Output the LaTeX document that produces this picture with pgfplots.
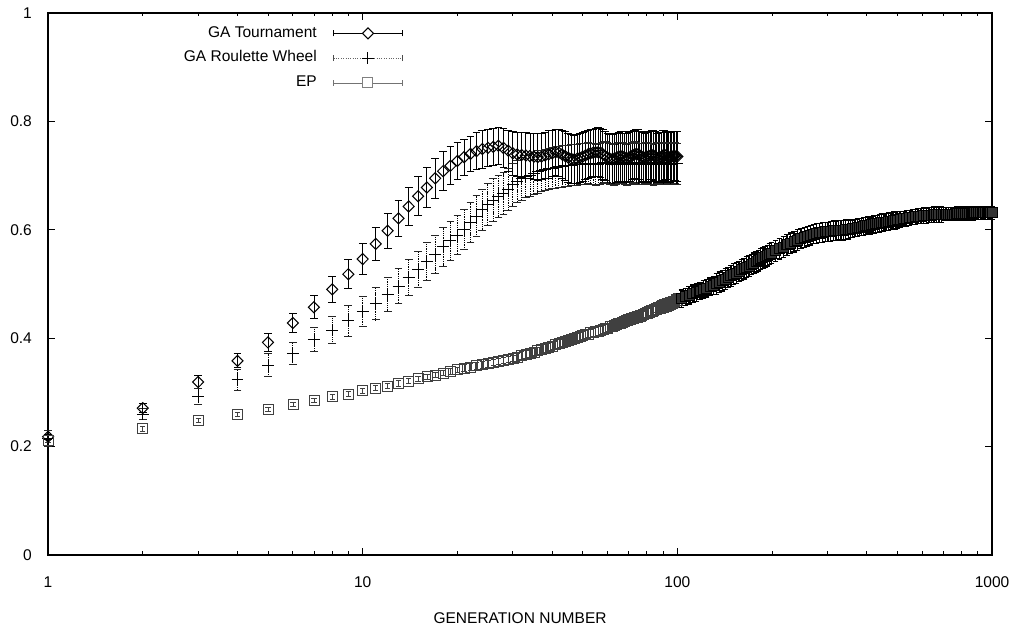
\documentclass[border=0pt]{standalone}
\usepackage{fontspec}
\setmainfont{Liberation Sans}
\usepackage{pgfplots}
\usepackage{pgfplotstable}
\pgfplotsset{compat=1.18}

\pgfplotstableread{
x y e
1 0.218 0.005
2 0.271 0.009
3 0.319 0.012
4 0.358 0.013
5 0.392 0.017
6 0.428 0.018
7 0.457 0.021
8 0.490 0.024
9 0.518 0.027
10 0.546 0.029
11 0.574 0.031
12 0.598 0.033
13 0.621 0.034
14 0.643 0.035
15 0.662 0.036
16 0.678 0.037
17 0.695 0.037
18 0.708 0.036
19 0.718 0.035
20 0.727 0.034
21 0.734 0.033
22 0.740 0.033
23 0.745 0.034
24 0.749 0.035
25 0.751 0.035
26 0.753 0.034
27 0.755 0.034
28 0.751 0.036
29 0.746 0.038
30 0.741 0.040
31 0.739 0.041
32 0.738 0.041
33 0.737 0.042
34 0.736 0.042
35 0.735 0.043
36 0.734 0.043
37 0.735 0.043
38 0.737 0.043
39 0.739 0.044
40 0.741 0.043
41 0.743 0.043
42 0.742 0.044
43 0.739 0.044
44 0.736 0.045
45 0.733 0.045
46 0.731 0.045
47 0.730 0.044
48 0.731 0.045
49 0.733 0.045
50 0.735 0.045
51 0.737 0.044
52 0.739 0.045
53 0.741 0.045
54 0.742 0.044
55 0.743 0.044
56 0.743 0.045
57 0.742 0.045
58 0.739 0.046
59 0.736 0.045
60 0.733 0.045
61 0.731 0.045
62 0.730 0.046
63 0.731 0.046
64 0.733 0.045
65 0.735 0.045
66 0.736 0.046
67 0.735 0.046
68 0.733 0.045
69 0.732 0.045
70 0.733 0.046
71 0.735 0.046
72 0.737 0.045
73 0.739 0.045
74 0.740 0.046
75 0.739 0.046
76 0.737 0.045
77 0.735 0.046
78 0.734 0.046
79 0.733 0.045
80 0.734 0.046
81 0.736 0.046
82 0.737 0.045
83 0.738 0.045
84 0.737 0.046
85 0.735 0.046
86 0.733 0.045
87 0.732 0.046
88 0.733 0.046
89 0.735 0.045
90 0.737 0.046
91 0.738 0.046
92 0.737 0.045
93 0.735 0.046
94 0.734 0.046
95 0.734 0.045
96 0.735 0.046
97 0.736 0.046
98 0.736 0.045
99 0.735 0.046
100 0.735 0.046
}\tourn

\pgfplotstableread{
x y e
1 0.215 0.015
2 0.260 0.010
3 0.292 0.015
4 0.323 0.019
5 0.350 0.021
6 0.372 0.021
7 0.398 0.022
8 0.415 0.025
9 0.432 0.028
10 0.449 0.028
11 0.464 0.030
12 0.481 0.031
13 0.496 0.032
14 0.512 0.033
15 0.527 0.034
16 0.542 0.035
17 0.555 0.035
18 0.569 0.036
19 0.580 0.036
20 0.590 0.036
21 0.601 0.037
22 0.613 0.037
23 0.625 0.038
24 0.637 0.038
25 0.647 0.038
26 0.655 0.039
27 0.661 0.039
28 0.667 0.039
29 0.675 0.039
30 0.683 0.039
31 0.689 0.039
32 0.694 0.039
33 0.698 0.039
34 0.701 0.039
35 0.704 0.039
36 0.707 0.039
37 0.709 0.038
38 0.711 0.038
39 0.713 0.038
40 0.714 0.038
41 0.715 0.038
42 0.716 0.038
43 0.717 0.038
44 0.718 0.038
45 0.718 0.038
46 0.719 0.038
47 0.720 0.038
48 0.720 0.038
49 0.721 0.038
50 0.721 0.038
51 0.722 0.038
52 0.723 0.038
53 0.722 0.038
54 0.721 0.038
55 0.720 0.038
56 0.721 0.038
57 0.722 0.038
58 0.724 0.038
59 0.725 0.038
60 0.724 0.038
61 0.722 0.038
62 0.721 0.038
63 0.720 0.038
64 0.721 0.038
65 0.723 0.038
66 0.724 0.038
67 0.723 0.038
68 0.721 0.038
69 0.720 0.038
70 0.721 0.038
71 0.722 0.038
72 0.724 0.038
73 0.725 0.038
74 0.724 0.038
75 0.722 0.038
76 0.721 0.038
77 0.721 0.038
78 0.722 0.038
79 0.723 0.038
80 0.724 0.038
81 0.723 0.038
82 0.722 0.038
83 0.721 0.038
84 0.720 0.038
85 0.721 0.038
86 0.722 0.038
87 0.723 0.038
88 0.724 0.038
89 0.723 0.038
90 0.722 0.038
91 0.721 0.038
92 0.722 0.038
93 0.723 0.038
94 0.723 0.038
95 0.722 0.038
96 0.721 0.038
97 0.722 0.038
98 0.723 0.038
99 0.722 0.038
100 0.722 0.038
}\roul

\pgfplotstableread{
x y e
1 0.211 0.004
2 0.233 0.004
3 0.248 0.004
4 0.259 0.004
5 0.269 0.004
6 0.278 0.004
7 0.285 0.004
8 0.292 0.004
9 0.297 0.004
10 0.303 0.004
11 0.308 0.005
12 0.312 0.005
13 0.317 0.005
14 0.321 0.005
15 0.325 0.005
16 0.329 0.005
17 0.332 0.005
18 0.336 0.005
19 0.339 0.005
20 0.342 0.005
21 0.345 0.006
22 0.347 0.006
23 0.349 0.006
24 0.351 0.006
25 0.353 0.006
26 0.355 0.006
27 0.357 0.006
28 0.359 0.006
29 0.361 0.006
30 0.363 0.006
31 0.365 0.007
32 0.368 0.007
33 0.370 0.007
34 0.372 0.007
35 0.374 0.007
36 0.377 0.007
37 0.379 0.007
38 0.381 0.007
39 0.383 0.007
40 0.385 0.007
41 0.388 0.008
42 0.390 0.008
43 0.392 0.008
44 0.394 0.008
45 0.396 0.008
46 0.398 0.008
47 0.400 0.008
48 0.401 0.008
49 0.403 0.008
50 0.405 0.008
51 0.407 0.008
52 0.408 0.008
53 0.410 0.008
54 0.411 0.008
55 0.412 0.008
56 0.413 0.008
57 0.415 0.008
58 0.416 0.008
59 0.418 0.008
60 0.419 0.008
61 0.421 0.010
62 0.422 0.010
63 0.424 0.010
64 0.425 0.010
65 0.427 0.010
66 0.428 0.010
67 0.430 0.010
68 0.431 0.011
69 0.433 0.011
70 0.434 0.011
71 0.435 0.011
72 0.436 0.011
73 0.438 0.011
74 0.439 0.011
75 0.440 0.011
76 0.441 0.011
77 0.443 0.011
78 0.444 0.011
79 0.446 0.011
80 0.447 0.011
81 0.448 0.012
82 0.449 0.012
83 0.451 0.012
84 0.452 0.012
85 0.453 0.012
86 0.454 0.012
87 0.456 0.012
88 0.457 0.012
89 0.458 0.013
90 0.459 0.013
91 0.460 0.013
92 0.461 0.013
93 0.462 0.013
94 0.463 0.013
95 0.464 0.013
96 0.465 0.013
97 0.467 0.013
98 0.468 0.013
99 0.469 0.013
100 0.470 0.013
}\epa

\pgfplotstableread{
x y e
103 0.473 0.016
106 0.476 0.016
109 0.479 0.016
112 0.482 0.016
115 0.484 0.016
118 0.487 0.016
121 0.490 0.016
124 0.492 0.016
127 0.495 0.016
130 0.497 0.016
133 0.500 0.019
136 0.503 0.019
139 0.506 0.019
142 0.509 0.019
145 0.512 0.019
148 0.515 0.019
151 0.518 0.019
154 0.520 0.019
157 0.523 0.019
160 0.526 0.019
163 0.528 0.019
166 0.531 0.019
169 0.533 0.019
172 0.536 0.019
175 0.538 0.019
178 0.541 0.019
181 0.543 0.019
184 0.546 0.019
187 0.548 0.019
190 0.550 0.019
193 0.552 0.019
196 0.555 0.019
199 0.557 0.019
205 0.561 0.019
211 0.565 0.019
217 0.568 0.019
223 0.572 0.019
229 0.575 0.019
235 0.578 0.019
241 0.581 0.019
247 0.584 0.019
253 0.586 0.018
259 0.588 0.018
265 0.590 0.018
271 0.592 0.018
277 0.593 0.018
283 0.594 0.018
289 0.595 0.018
295 0.596 0.018
301 0.596 0.018
307 0.597 0.018
313 0.598 0.018
319 0.598 0.018
325 0.599 0.018
331 0.599 0.018
337 0.599 0.018
343 0.600 0.018
349 0.601 0.018
355 0.601 0.016
361 0.602 0.016
367 0.603 0.016
373 0.604 0.016
379 0.605 0.016
385 0.605 0.016
391 0.606 0.016
397 0.607 0.016
403 0.608 0.016
409 0.608 0.016
415 0.609 0.016
421 0.610 0.016
427 0.611 0.016
433 0.611 0.016
439 0.612 0.016
445 0.613 0.016
451 0.613 0.016
457 0.614 0.016
463 0.614 0.016
469 0.615 0.016
475 0.616 0.016
481 0.616 0.016
487 0.617 0.016
493 0.617 0.016
499 0.618 0.016
510 0.619 0.014
522 0.620 0.014
534 0.621 0.014
546 0.622 0.014
558 0.623 0.014
570 0.624 0.014
582 0.625 0.014
594 0.625 0.014
606 0.626 0.014
618 0.626 0.014
630 0.627 0.014
642 0.627 0.014
654 0.628 0.014
666 0.628 0.014
678 0.628 0.014
690 0.628 0.014
702 0.629 0.012
714 0.629 0.012
726 0.629 0.012
738 0.629 0.012
750 0.629 0.012
762 0.629 0.012
774 0.630 0.012
786 0.630 0.012
798 0.630 0.012
810 0.630 0.012
822 0.630 0.012
834 0.630 0.012
846 0.630 0.012
858 0.630 0.012
870 0.630 0.012
882 0.631 0.012
894 0.631 0.012
906 0.631 0.012
918 0.631 0.012
930 0.631 0.012
942 0.631 0.012
954 0.631 0.012
966 0.631 0.012
978 0.631 0.012
990 0.631 0.012
1000 0.631 0.012
}\epb

\pgfplotsset{
  tlegend/.style={legend image code/.code={
    \draw[black, line width=0.6pt] (0pt,0pt) -- (46pt,0pt) (0pt,-2pt) -- (0pt,2pt) (46pt,-2pt) -- (46pt,2pt);
    \draw[black, line width=0.7pt, mark=diamond*, mark size=3.7pt, mark options={xscale=1.33, solid, fill=white}] plot coordinates {(23pt,0pt)};
  }},
  rlegend/.style={legend image code/.code={
    \draw[black!60, line width=0.6pt, densely dotted] (0pt,0pt) -- (46pt,0pt);
    \draw[black!70, line width=0.5pt] (0pt,-2pt) -- (0pt,2pt) (46pt,-2pt) -- (46pt,2pt);
    \draw[black, line width=0.6pt, mark=+, mark size=4pt] plot coordinates {(23pt,0pt)};
  }},
  elegend/.style={legend image code/.code={
    \draw[black!55, line width=0.5pt] (0pt,0pt) -- (46pt,0pt) (0pt,-2pt) -- (0pt,2pt) (46pt,-2pt) -- (46pt,2pt);
    \draw[black!50, line width=0.6pt, mark=square*, mark size=3.35pt, mark options={fill=white}] plot coordinates {(23pt,0pt)};
  }},
}

\begin{document}
\fontsize{10.4}{12.5}\selectfont
\begin{tikzpicture}
\useasboundingbox (-32.2pt,-49.6pt) rectangle (651.9pt,371.8pt);
\begin{axis}[
  at={(0pt,0pt)}, anchor=south west,
  scale only axis, width=632.5pt, height=363.1pt,
  xmode=log, xmin=1, xmax=1000, ymin=0, ymax=1,
  xtick={1,10,100,1000}, xticklabels={1,10,100,1000},
  minor xtick={2,3,4,5,6,7,8,9,20,30,40,50,60,70,80,90,200,300,400,500,600,700,800,900},
  ytick={0,0.2,0.4,0.6,0.8,1}, yticklabels={0,0.2,0.4,0.6,0.8,1},
  tick align=inside, major tick length=4.5pt, minor tick length=2.3pt,
  every tick/.style={black, line width=0.6pt},
  axis line style={black, line width=0.8pt},
  xticklabel style={yshift=-11pt},
  yticklabel style={xshift=-7.2pt},
  xlabel={GENERATION NUMBER},
  xlabel style={at={(axis description cs:0.5,0)}, anchor=center, yshift=-42.6pt},
  clip=false,
  legend plot pos=right, legend cell align=right,
  legend style={draw=none, fill=none, inner sep=0pt, at={(0.376,0.985)}, anchor=north east,
    row sep=0.6pt, column sep=8pt, nodes={text height=7.5pt, text depth=2.5pt, inner sep=3pt}},
]
\addplot[tlegend, only marks, mark=diamond, mark size=3.7pt,
  mark options={black, solid, line width=0.7pt, xscale=1.33},
  error bars/.cd, y dir=both, y explicit,
  error bar style={black, line width=0.6pt},
  error mark options={rotate=90, mark size=2.6pt, black, line width=0.6pt}]
  table[x=x, y=y, y error=e]{\tourn};
\addlegendentry{GA Tournament}
\addplot[rlegend, only marks, mark=+, mark size=4pt,
  mark options={black, solid, line width=0.6pt},
  error bars/.cd, y dir=both, y explicit,
  error bar style={black, line width=0.6pt, dash pattern=on 0.7pt off 0.5pt},
  error mark options={rotate=90, mark size=2.6pt, black!85, solid, line width=0.5pt}]
  table[x=x, y=y, y error=e]{\roul};
\addlegendentry{GA Roulette Wheel}
\addplot[elegend, only marks, mark=square, mark size=3.35pt,
  mark options={black!75, solid, line width=0.4pt},
  error bars/.cd, y dir=both, y explicit,
  error bar style={black!75, line width=0.4pt},
  error mark options={rotate=90, mark size=1.8pt, black!75, line width=0.4pt}]
  table[x=x, y=y, y error=e]{\epa};
\addlegendentry{EP}
\addplot[forget plot, only marks, mark=square*, mark size=3.35pt,
  mark options={draw=black, fill=black!80, solid, line width=0.7pt},
  error bars/.cd, y dir=both, y explicit,
  error bar style={black, line width=0.9pt},
  error mark options={rotate=90, mark size=1.8pt, black, line width=0.8pt}]
  table[x=x, y=y, y error=e]{\epb};
\end{axis}
\end{tikzpicture}
\end{document}
